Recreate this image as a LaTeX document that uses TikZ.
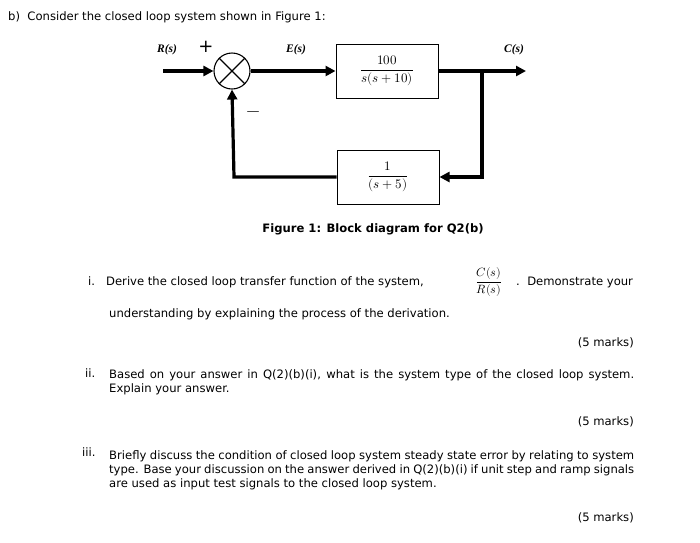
\documentclass[tikz,border=0pt]{standalone}
\usepackage{fontspec}
\setmainfont{DejaVu Sans}
\newfontfamily\tnr{Liberation Serif}
\usepackage{unicode-math}
\setmathfont{Latin Modern Math}
\usetikzlibrary{arrows.meta}
\begin{document}
\begin{tikzpicture}[x=1pt,y=-1pt,
  wire/.style={line width=3.2pt,-{Triangle[length=10pt,width=10pt]}},
  blk/.style={draw,line width=1pt,minimum width=102pt,minimum height=54pt,inner sep=0,font=\fontsize{13}{15}\selectfont},
  sig/.style={font=\fontsize{11.5}{13}\selectfont\bfseries\itshape\tnr},
  txt/.style={anchor=west,font=\fontsize{11.6}{14}\selectfont,inner sep=0},
  jtxt/.style={anchor=west,font=\fontsize{11.6}{14}\selectfont,inner sep=0,text width=525pt,align=justify}]
\useasboundingbox (0,0) rectangle (700,542);
\fill[white] (0,0) rectangle (700,542);
\node[txt] (title) at (8,17) {b)\ \ Consider the closed loop system shown in Figure 1:};
\node[draw,circle,line width=1.1pt,minimum size=36pt,inner sep=0] (sum) at (232,71) {};
\draw[line width=1.1pt] (sum.north west)--(sum.south east) (sum.north east)--(sum.south west);
\node[blk] (g) at (387,71) {$\dfrac{100}{s(s+10)}$};
\node[blk] (h) at (388,177) {$\dfrac{1}{(s+5)}$};
\coordinate (rin) at (163,71);
\coordinate (out) at (526,71);
\coordinate (br) at (482,71);
\coordinate (c1) at (482,177);
\coordinate (c2) at (234,177);
\draw[wire] (rin)--(sum.west);
\draw[wire] (sum.east)--(g.west);
\draw[wire] (g.east)--(out);
\draw[wire] (br)--(c1)--(h.east);
\draw[wire] (h.west)--(c2)--(sum.south);
\node[sig] (rl) at (167,50) {R(s)};
\node[sig] (el) at (296,50) {E(s)};
\node[sig] (cl) at (514,50) {C(s)};
\node[font=\fontsize{18}{18}\selectfont] (plus) at (206,47) {+};
\node[font=\fontsize{18}{18}\selectfont] (minus) at (253,114) {$-$};
\node[font=\fontsize{11.6}{14}\selectfont\bfseries] (cap) at (373,229) {Figure 1: Block diagram for Q2(b)};
\node[txt] (i1) at (88,282) {i.\ \ \ Derive the closed loop transfer function of the system,};
\node[font=\fontsize{12}{14}\selectfont] (frac) at (489,282) {$\dfrac{C(s)}{R(s)}$};
\node[txt] (i1b) at (516,282) {.\ \ Demonstrate your};
\node[txt] (i1c) at (109,314) {understanding by explaining the process of the derivation.};
\node[txt,anchor=east] (m1) at (634,343) {(5 marks)};
\node[txt] (i2) at (85,373) {ii.};
\node[jtxt] (i2a) at (109,382) {Based on your answer in Q(2)(b)(i), what is the system type of the closed loop system. Explain your answer.};
\node[txt,anchor=east] (m2) at (634,422) {(5 marks)};
\node[txt] (i3) at (82,452) {iii.};
\node[jtxt] (i3a) at (109,470) {Briefly discuss the condition of closed loop system steady state error by relating to system type. Base your discussion on the answer derived in Q(2)(b)(i) if unit step and ramp signals are used as input test signals to the closed loop system.};
\node[txt,anchor=east] (m3) at (634,518) {(5 marks)};
\end{tikzpicture}
\end{document}
